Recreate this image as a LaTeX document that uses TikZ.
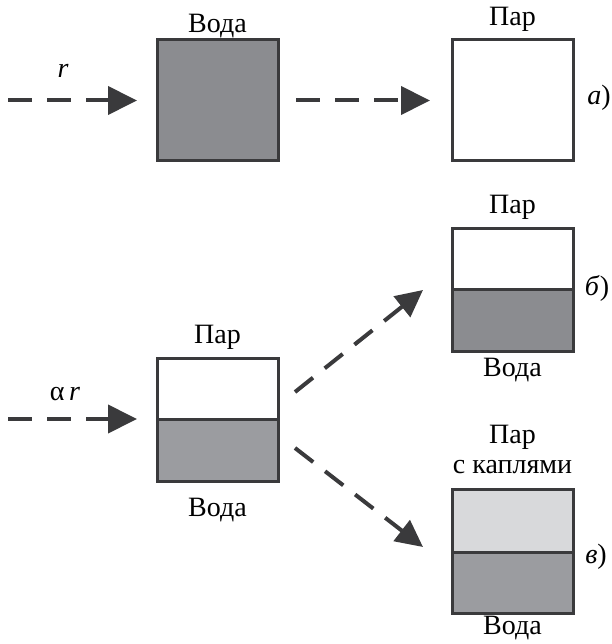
\documentclass[tikz,border=0pt]{standalone}
\usepackage{fontspec}
\newfontfamily\rusfont{Liberation Serif}
\usetikzlibrary{arrows.meta}
\definecolor{edge}{HTML}{3A3A3C}
\definecolor{water}{HTML}{8B8C90}
\definecolor{waterlight}{HTML}{9B9CA0}
\definecolor{mist}{HTML}{D8D9DB}
\begin{document}
\begin{tikzpicture}[x=1pt,y=-1pt,
  cell/.style={draw=edge, line width=3pt, minimum width=121pt, inner sep=0pt, outer sep=0pt},
  flow/.style={draw=edge, line width=4pt, dash pattern=on 24pt off 15pt,
    -{Triangle[length=29pt,width=28pt]}},
  slant/.style={draw=edge, line width=4pt, dash pattern=on 23pt off 15pt,
    -{Triangle[length=27pt,width=26pt]}},
  lbl/.style={font=\rusfont\fontsize{28}{32}\selectfont, anchor=base, inner sep=0pt}]
\useasboundingbox (0,0) rectangle (611,644);

% containers
\node[cell, fill=water, minimum height=121pt] (w1) at (217.5,100.5) {};
\node[cell, fill=white, minimum height=121pt] (s1) at (512.5,100.5) {};

\node[cell, fill=white, minimum height=61pt] (s2) at (217.5,388.5) {};
\node[cell, fill=waterlight, minimum height=62pt] (w2) at (217.5,450) {};

\node[cell, fill=white, minimum height=61pt] (s3) at (512.5,258.5) {};
\node[cell, fill=water, minimum height=62pt] (w3) at (512.5,320) {};

\node[cell, fill=mist, minimum height=63pt] (s4) at (512.5,520.5) {};
\node[cell, fill=waterlight, minimum height=61pt] (w4) at (512.5,582.5) {};

% labels
\node[lbl] (t1) at (217.5,33) {Вода};
\node[lbl] (t2) at (512.5,26) {Пар};
\node[lbl] (t3) at (217.5,343) {Пар};
\node[lbl] (t4) at (217.5,516) {Вода};
\node[lbl] (t5) at (512.5,213) {Пар};
\node[lbl] (t6) at (512.5,376) {Вода};
\node[lbl] (t7) at (512.5,443) {Пар};
\node[lbl] (t8) at (512.5,473) {с каплями};
\node[lbl] (t9) at (512.5,634) {Вода};

\node[lbl] (lr) at (63,78) {\textit{r}};
\node[lbl] (lar) at (65,400) {α\,\textit{r}};
\node[lbl] (ca) at (599,105) {\textit{а})};
\node[lbl] (cb) at (597,295) {\textit{б})};
\node[lbl] (cc) at (596,563) {\textit{в})};

% flows
\coordinate (in1) at (8,100.5);
\coordinate (in2) at (8,419);
\draw[flow, shorten >=20pt] (in1) -- (w1.west);
\draw[flow, shorten <=18pt, shorten >=22pt] (w1.east) -- (s1.west);
\draw[flow, shorten >=20pt] (in2) -- (w2.north west);
\draw[slant] ([shift={(17pt,-3.5pt)}]s2.east) -- ([shift={(-29pt,-1pt)}]w3.north west);
\draw[slant] ([shift={(17pt,2pt)}]w2.east) -- ([shift={(-29pt,5pt)}]w4.north west);
\end{tikzpicture}
\end{document}
